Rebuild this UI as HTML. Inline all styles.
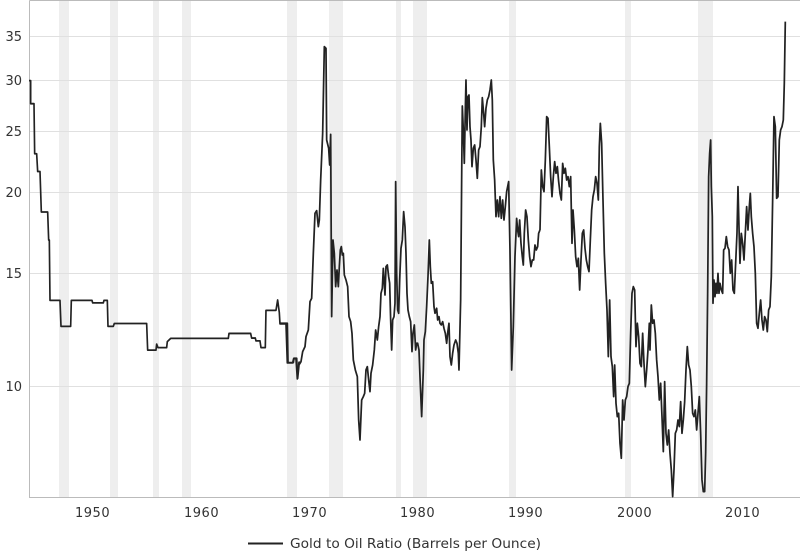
<!DOCTYPE html>
<html><head><meta charset="utf-8"><style>
html,body{margin:0;padding:0;background:#fff;}
svg{display:block;font-family:"DejaVu Sans","Liberation Sans",sans-serif;}
</style></head><body>
<svg width="800" height="557" viewBox="0 0 800 557" xmlns="http://www.w3.org/2000/svg">
<g fill="#eeeeee">
<rect x="59" y="1" width="10" height="496"/>
<rect x="110" y="1" width="8" height="496"/>
<rect x="153" y="1" width="6" height="496"/>
<rect x="182" y="1" width="9" height="496"/>
<rect x="287" y="1" width="10" height="496"/>
<rect x="329" y="1" width="14" height="496"/>
<rect x="396" y="1" width="5" height="496"/>
<rect x="413" y="1" width="14" height="496"/>
<rect x="509" y="1" width="7" height="496"/>
<rect x="625" y="1" width="6" height="496"/>
<rect x="698" y="1" width="15" height="496"/>
</g>
<g stroke="#e0e0e0" stroke-width="1">
<line x1="30" x2="800" y1="36.5" y2="36.5"/>
<line x1="30" x2="800" y1="80.5" y2="80.5"/>
<line x1="30" x2="800" y1="131.5" y2="131.5"/>
<line x1="30" x2="800" y1="192.5" y2="192.5"/>
<line x1="30" x2="800" y1="273.5" y2="273.5"/>
<line x1="30" x2="800" y1="386.5" y2="386.5"/>
</g>
<path d="M29.5 0.5H800M29.5 0.5V497.5H800" fill="none" stroke="#bbb" stroke-width="1"/>
<g font-size="13" fill="#333" text-anchor="end">
<text x="22" y="41">35</text>
<text x="22" y="85">30</text>
<text x="22" y="136">25</text>
<text x="22" y="197">20</text>
<text x="22" y="278">15</text>
<text x="22" y="391">10</text>
</g>
<g font-size="13" fill="#333" letter-spacing="0.5">
<text x="75" y="517">1950</text>
<text x="184" y="517">1960</text>
<text x="292" y="517">1970</text>
<text x="400" y="517">1980</text>
<text x="508" y="517">1990</text>
<text x="617" y="517">2000</text>
<text x="725" y="517">2010</text>
</g>
<g fill="none" stroke="#222" stroke-width="2" stroke-linejoin="round">
<polyline transform="scale(0.3333,0.3551)" stroke-width="5" points="87,227 92,227 92,292 102,292 104,433 110,433 113,483 120,483 124,597 143,597 146,676 148,676 150,846 180,846 183,919 212,919 214,846 276,846 278,853 310,853 312,846 322,846 324,919 340,919 343,911 440,911 443,986 468,986 470,969 474,979 500,979 502,962 512,953 685,953 687,939 752,939 755,952 766,952 768,960 780,960 783,979 796,979 798,874 828,874 833,845 838,880 840,912 858,912 862,1022 878,1022 881,1010 888,1010 892,1067 897,1020 900,1020"/>
<polyline transform="translate(280,0) scale(0.3333)" stroke-width="5.2" points="0,970 22,970 24,1088 40,1088 42,1075 50,1075 53,1135 57,1095 63,1085 68,1055 75,1040 78,1010 85,990 90,905 95,895 100,760 105,640 110,632 115,680 118,660 122,540 128,400 133,140 138,145 140,420 146,445 149,495 152,403 155,950 159,720 163,760 167,860 171,810 175,860 178,800 181,750 184,740 187,765 190,760 193,825 198,840 203,860 207,950 212,965 216,1000 220,1080 226,1110 232,1130 236,1260 240,1320 245,1200 250,1190 254,1180 258,1110 262,1100 266,1140 270,1175 273,1120 278,1095 283,1050 287,990 292,1020 296,980 300,950 303,880 307,865 310,805 315,885 318,800 322,795 326,830 329,850 332,960 335,1050 338,960 342,950 345,910 347,545 350,820 353,930 356,940 359,840 363,745 367,720 371,635 375,680 378,760 381,880 384,930 388,950 392,965 396,1055 399,1000 403,975 407,1050 410,1030 413,1030 417,1050 420,1130 425,1250 430,1110 432,1020 436,995 440,920 444,830 448,720 451,800 454,850 458,845 462,920 465,940 470,925 473,960 477,950 480,970 484,975 488,965 492,985 496,1000 500,1030 503,1000 507,970 510,1070 514,1095 518,1060 522,1035 527,1020 531,1030 535,1060 537,1110 542,900 545,540 547,318 550,390 553,490 556,330 558,240 561,390 564,290 567,285 570,380 573,420 576,500 580,445 584,435 588,480 592,535 596,450 600,440 604,380 607,293 611,340 614,380 618,325 622,300 626,290 630,270 634,240 637,300 640,480 644,540 648,650 652,600 656,650 660,590 664,655 668,600 672,660 676,620 680,575 686,545 690,750 695,1110 700,980 705,770 710,655 713,690 716,710 719,660 723,730 727,770 730,795 733,700 737,630 741,650 745,720 749,770 753,800 757,780 761,780 765,735 769,750 773,740 776,700 780,690"/>
<polyline transform="translate(540,0) scale(0.3333)" stroke-width="5.2" points="0,690 4,510 8,560 12,575 16,480 20,350 24,355 28,440 32,530 36,590 40,530 44,485 48,520 52,500 56,545 60,580 64,600 68,490 72,520 76,505 80,540 84,530 88,560 92,530 96,730 99,630 103,690 107,770 111,800 115,775 119,870 123,780 127,700 131,690 135,745 139,780 143,800 147,815 151,720 155,630 159,590 163,570 167,530 171,550 175,600 178,440 181,370 185,430 189,600 193,760 197,850 201,930 205,1070 209,900 213,1070 217,1100 221,1190 224,1095 228,1210 232,1250 236,1240 240,1330 244,1375 248,1200 252,1260 256,1200 260,1190 264,1160 268,1150 272,1000 276,880 280,860 284,870 288,1040 292,970 296,1010 300,1090 304,1100 308,1000 312,1090 316,1160 320,1110 324,1050 328,970 330,1050 334,915 338,970 342,960 346,1000 350,1080 354,1130 358,1200 362,1150 366,1250 370,1355 374,1145 378,1300 382,1335 386,1290 390,1360 394,1410 398,1490 402,1410 406,1300 410,1290 414,1260 418,1280 422,1205 426,1300 430,1260 434,1205 438,1110 442,1040 446,1095 450,1110 454,1160 458,1240 462,1250 466,1230 470,1290 474,1240 478,1190 482,1300 486,1440 490,1475 494,1475 497,1360 500,1150 503,880 506,530 509,460 512,420 514,560 517,650 519,910 522,840 525,890 528,850 531,880 534,820 537,880 540,850 544,870 548,880 551,750 555,745 559,710 563,740 567,750 571,820 575,780 579,870 583,880 587,790 591,700 594,560 597,680 600,790 604,700 608,730 612,780 616,700 620,620 624,690 628,620 631,580 634,650 638,700 642,740 646,820 650,970 654,985 658,940 662,900 666,960 670,990 674,950 678,960 682,995 686,930 690,920 694,830 698,600 702,350 706,380 710,595 714,590 718,420 722,390 726,380 730,360 733,250 736,65"/>
</g>
<line x1="248" y1="543.5" x2="283" y2="543.5" stroke="#222" stroke-width="2"/>
<text x="290" y="548" font-size="13" fill="#333" textLength="251" lengthAdjust="spacingAndGlyphs">Gold to Oil Ratio (Barrels per Ounce)</text>
</svg>
</body></html>
